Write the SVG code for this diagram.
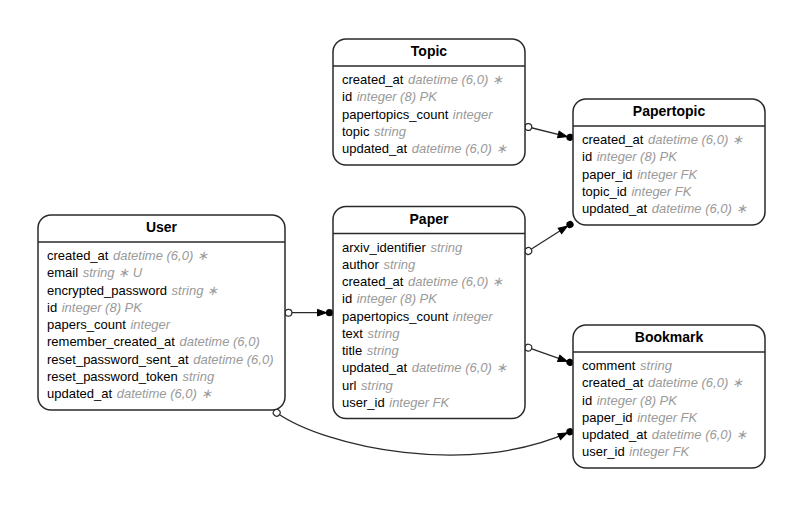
<svg xmlns="http://www.w3.org/2000/svg" width="803" height="508" viewBox="0 0 803 508">
<defs>
<style>
.box{fill:#fff;stroke:#2a2a2a;stroke-width:1.5}
.sep{stroke:#2a2a2a;stroke-width:1.5}
.title{font-family:"Liberation Sans",Arial,sans-serif;font-size:14px;font-weight:bold;fill:#000;text-anchor:middle}
.row{font-family:"Liberation Sans",Arial,sans-serif;font-size:13px;fill:#000}
.t{fill:#9a9a9a;font-style:italic}
.edge{fill:none;stroke:#2a2a2a;stroke-width:1.3}
</style>
<marker id="odot" markerUnits="userSpaceOnUse" viewBox="-5 -5 10 10" markerWidth="10" markerHeight="10" refX="0" refY="0" orient="auto">
<circle cx="0" cy="0" r="3.4" fill="#fff" stroke="#2a2a2a" stroke-width="1.2"/>
</marker>
<marker id="dotarrow" markerUnits="userSpaceOnUse" viewBox="-14 -5 19 10" markerWidth="19" markerHeight="10" refX="0" refY="0" orient="auto">
<polygon points="-12,-3.3 -3,0 -12,3.3" fill="#000" stroke="#000" stroke-width="1"/>
<circle cx="0" cy="0" r="3.6" fill="#000"/>
</marker>
</defs>
<rect width="803" height="508" fill="#fff"/>
<g id="connectors">
<path class="edge" marker-start="url(#odot)" marker-end="url(#dotarrow)" d="M528.3,127 L570,137.3"/>
<path class="edge" marker-start="url(#odot)" marker-end="url(#dotarrow)" d="M528.3,251 L570,224.5"/>
<path class="edge" marker-start="url(#odot)" marker-end="url(#dotarrow)" d="M288.5,312.7 L329.5,312.7"/>
<path class="edge" marker-start="url(#odot)" marker-end="url(#dotarrow)" d="M528.3,347.7 L570,362.3"/>
<path class="edge" marker-start="url(#odot)" marker-end="url(#dotarrow)" d="M276.7,412.7 C325,447 470,478 570,431.7"/>
</g>
<g id="Topic" transform="translate(333,39)">
<rect class="box" x="0" y="0" width="192" height="126" rx="13"/>
<line class="sep" x1="0" y1="27" x2="192" y2="27"/>
<text class="title" x="96" y="17">Topic</text>
<text class="row" x="9" y="45">created_at <tspan class="t" dx="1">datetime (6,0) ∗</tspan></text>
<text class="row" x="9" y="62.25">id <tspan class="t" dx="1">integer (8) PK</tspan></text>
<text class="row" x="9" y="79.5">papertopics_count <tspan class="t" dx="1">integer</tspan></text>
<text class="row" x="9" y="96.75">topic <tspan class="t" dx="1">string</tspan></text>
<text class="row" x="9" y="114">updated_at <tspan class="t" dx="1">datetime (6,0) ∗</tspan></text>
</g>
<g id="Papertopic" transform="translate(573,99)">
<rect class="box" x="0" y="0" width="192" height="126" rx="13"/>
<line class="sep" x1="0" y1="27" x2="192" y2="27"/>
<text class="title" x="96" y="17">Papertopic</text>
<text class="row" x="9" y="45">created_at <tspan class="t" dx="1">datetime (6,0) ∗</tspan></text>
<text class="row" x="9" y="62.25">id <tspan class="t" dx="1">integer (8) PK</tspan></text>
<text class="row" x="9" y="79.5">paper_id <tspan class="t" dx="1">integer FK</tspan></text>
<text class="row" x="9" y="96.75">topic_id <tspan class="t" dx="1">integer FK</tspan></text>
<text class="row" x="9" y="114">updated_at <tspan class="t" dx="1">datetime (6,0) ∗</tspan></text>
</g>
<g id="User" transform="translate(38,215)">
<rect class="box" x="0" y="0" width="247" height="195" rx="13"/>
<line class="sep" x1="0" y1="27" x2="247" y2="27"/>
<text class="title" x="123.5" y="17">User</text>
<text class="row" x="9" y="45">created_at <tspan class="t" dx="1">datetime (6,0) ∗</tspan></text>
<text class="row" x="9" y="62.25">email <tspan class="t" dx="1">string ∗ U</tspan></text>
<text class="row" x="9" y="79.5">encrypted_password <tspan class="t" dx="1">string ∗</tspan></text>
<text class="row" x="9" y="96.75">id <tspan class="t" dx="1">integer (8) PK</tspan></text>
<text class="row" x="9" y="114">papers_count <tspan class="t" dx="1">integer</tspan></text>
<text class="row" x="9" y="131.25">remember_created_at <tspan class="t" dx="1">datetime (6,0)</tspan></text>
<text class="row" x="9" y="148.5">reset_password_sent_at <tspan class="t" dx="1">datetime (6,0)</tspan></text>
<text class="row" x="9" y="165.75">reset_password_token <tspan class="t" dx="1">string</tspan></text>
<text class="row" x="9" y="183">updated_at <tspan class="t" dx="1">datetime (6,0) ∗</tspan></text>
</g>
<g id="Paper" transform="translate(333,206.5)">
<rect class="box" x="0" y="0" width="192" height="212" rx="13"/>
<line class="sep" x1="0" y1="27" x2="192" y2="27"/>
<text class="title" x="96" y="17">Paper</text>
<text class="row" x="9" y="45">arxiv_identifier <tspan class="t" dx="1">string</tspan></text>
<text class="row" x="9" y="62.25">author <tspan class="t" dx="1">string</tspan></text>
<text class="row" x="9" y="79.5">created_at <tspan class="t" dx="1">datetime (6,0) ∗</tspan></text>
<text class="row" x="9" y="96.75">id <tspan class="t" dx="1">integer (8) PK</tspan></text>
<text class="row" x="9" y="114">papertopics_count <tspan class="t" dx="1">integer</tspan></text>
<text class="row" x="9" y="131.25">text <tspan class="t" dx="1">string</tspan></text>
<text class="row" x="9" y="148.5">title <tspan class="t" dx="1">string</tspan></text>
<text class="row" x="9" y="165.75">updated_at <tspan class="t" dx="1">datetime (6,0) ∗</tspan></text>
<text class="row" x="9" y="183">url <tspan class="t" dx="1">string</tspan></text>
<text class="row" x="9" y="200.25">user_id <tspan class="t" dx="1">integer FK</tspan></text>
</g>
<g id="Bookmark" transform="translate(573,325)">
<rect class="box" x="0" y="0" width="192" height="143" rx="13"/>
<line class="sep" x1="0" y1="27" x2="192" y2="27"/>
<text class="title" x="96" y="17">Bookmark</text>
<text class="row" x="9" y="45">comment <tspan class="t" dx="1">string</tspan></text>
<text class="row" x="9" y="62.25">created_at <tspan class="t" dx="1">datetime (6,0) ∗</tspan></text>
<text class="row" x="9" y="79.5">id <tspan class="t" dx="1">integer (8) PK</tspan></text>
<text class="row" x="9" y="96.75">paper_id <tspan class="t" dx="1">integer FK</tspan></text>
<text class="row" x="9" y="114">updated_at <tspan class="t" dx="1">datetime (6,0) ∗</tspan></text>
<text class="row" x="9" y="131.25">user_id <tspan class="t" dx="1">integer FK</tspan></text>
</g>
</svg>
